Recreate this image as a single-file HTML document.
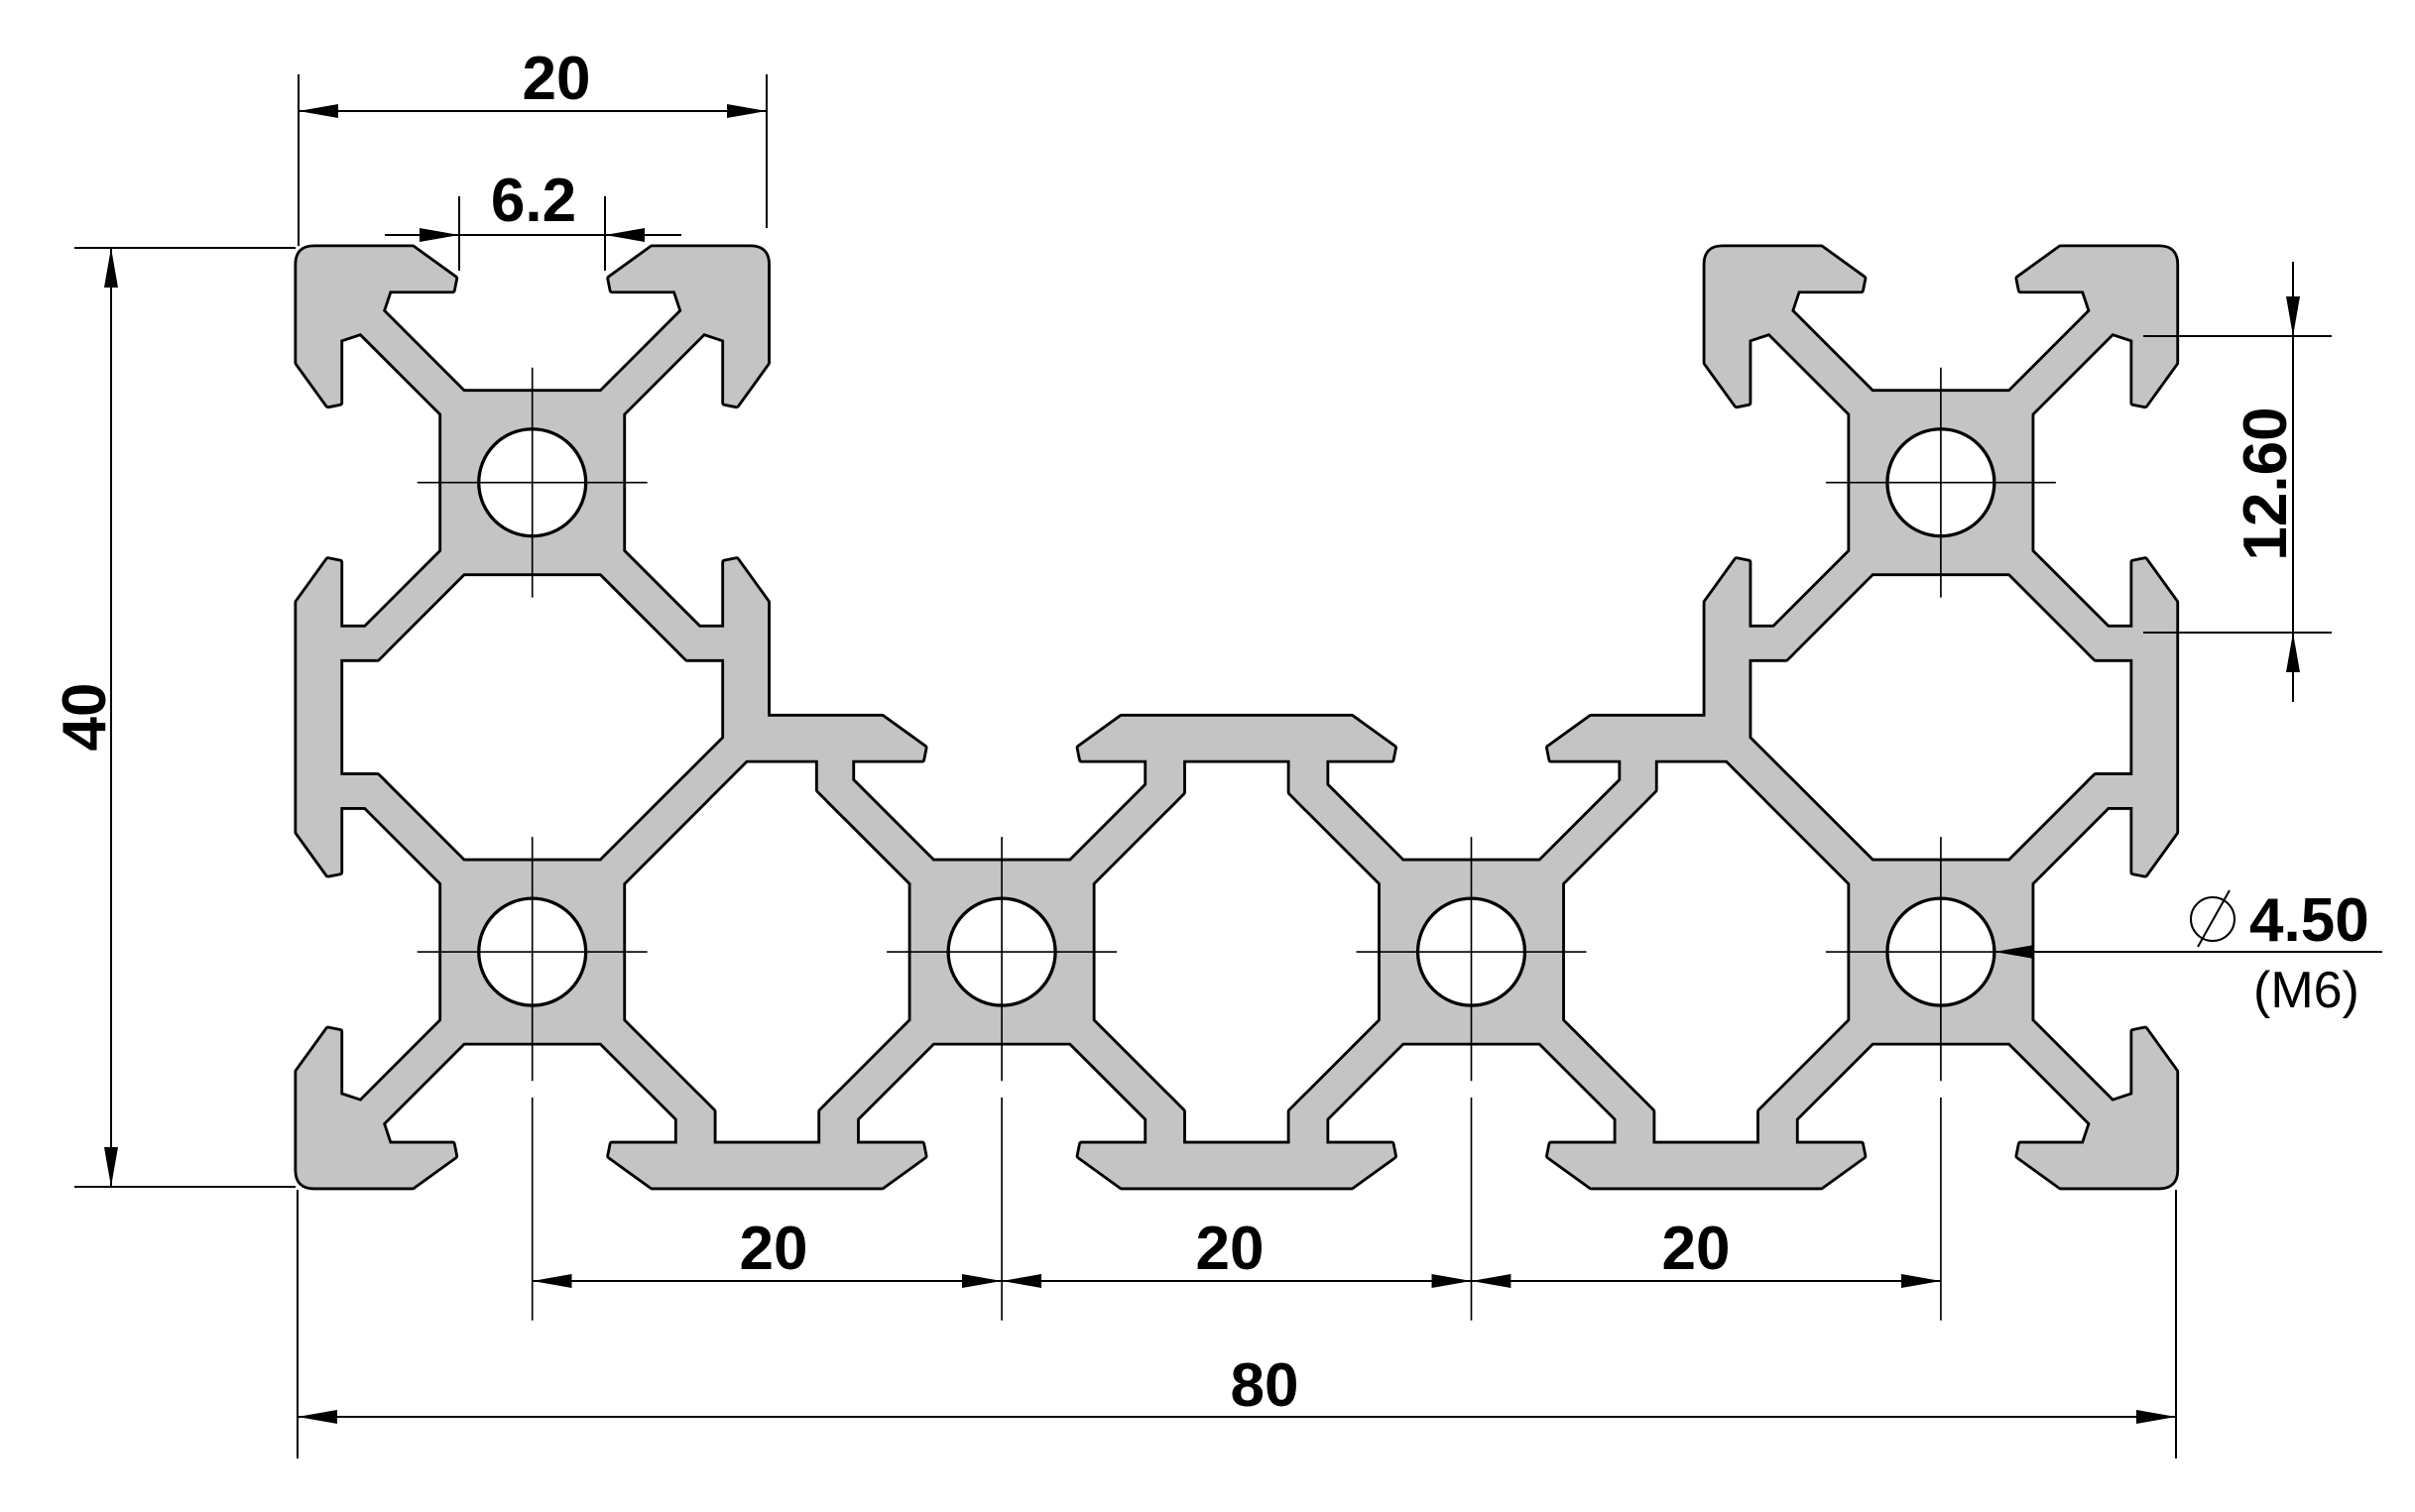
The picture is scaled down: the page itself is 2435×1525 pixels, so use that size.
<!DOCTYPE html>
<html><head><meta charset="utf-8">
<style>html,body{margin:0;padding:0;background:#fff}svg{display:block}
text{font-family:"Liberation Sans",sans-serif;font-weight:bold;fill:#000}</style>
</head><body>
<svg width="2435" height="1525" viewBox="0 0 2435 1525" xmlns="http://www.w3.org/2000/svg" xmlns:xlink="http://www.w3.org/1999/xlink">
<defs>
<g id="hook"><path d="M0,4.9 L0,0.7 Q0,0 0.7,0 L4.9,0 L6.7,1.3 L6.6,1.8 L3.9,1.8 L3.6,2.7 L2.7,3.6 L1.8,3.9 L1.8,6.6 L1.3,6.7 Z"/></g>
<g id="cell">
<rect x="6.16" y="6.16" width="7.68" height="7.68"/>
<polygon points="3.5,2.6 7.3,6.4 6.4,7.3 2.6,3.5"/>
<polygon points="16.5,2.6 12.7,6.4 13.6,7.3 17.4,3.5"/>
<polygon points="3.5,17.4 7.3,13.6 6.4,12.7 2.6,16.5"/>
<polygon points="16.5,17.4 12.7,13.6 13.6,12.7 17.4,16.5"/>
</g>
<g id="jl">
<polygon points="0,15.1 1.3,13.3 1.8,13.4 1.8,26.6 1.3,26.7 0,24.9"/>
<polygon points="1.7,16.2 2.9,16.2 3.7,17.2 3.4,17.5 1.7,17.5"/>
<polygon points="1.7,23.8 2.9,23.8 3.7,22.8 3.4,22.5 1.7,22.5"/>
</g>
<g id="j1">
<polygon points="18.2,13.4 18.7,13.3 20,15.1 20,20 24.9,20 26.7,21.3 26.6,21.8 18.2,21.8"/>
<polygon points="18.3,16.2 17.1,16.2 16.3,17.2 16.6,17.5 18.3,17.5"/>
<polygon points="22.2,21.7 23.6,21.7 23.6,22.7 23.3,24.2 22.2,23.1"/>
<polygon points="12.8,26.3 18.3,20.8 19.1,20.8 19.1,21.8 13.7,27.2"/>
</g>
<g id="j3">
<polygon points="15.1,40 24.9,40 26.7,38.7 26.6,38.2 13.4,38.2 13.3,38.7"/>
<polygon points="16.2,38.3 16.2,37.1 17.0,36.1 17.7,36.8 17.7,38.3"/>
<polygon points="23.8,38.3 23.8,37.1 23.0,36.1 22.3,36.8 22.3,38.3"/>
</g>
<g id="profile">
<use xlink:href="#cell"/>
<use xlink:href="#cell" transform="translate(60,0)"/>
<use xlink:href="#cell" transform="translate(0,20)"/>
<use xlink:href="#cell" transform="translate(20,20)"/>
<use xlink:href="#cell" transform="translate(40,20)"/>
<use xlink:href="#cell" transform="translate(60,20)"/>
<use xlink:href="#hook"/>
<use xlink:href="#hook" transform="translate(20,0) scale(-1,1)"/>
<use xlink:href="#hook" transform="translate(60,0)"/>
<use xlink:href="#hook" transform="translate(80,0) scale(-1,1)"/>
<use xlink:href="#hook" transform="translate(0,40) scale(1,-1)"/>
<use xlink:href="#hook" transform="translate(80,40) scale(-1,-1)"/>
<use xlink:href="#jl"/>
<use xlink:href="#jl" transform="translate(80,0) scale(-1,1)"/>
<use xlink:href="#j1"/>
<use xlink:href="#j1" transform="translate(80,0) scale(-1,1)"/>
<use xlink:href="#j3"/>
<use xlink:href="#j3" transform="translate(20,0)"/>
<use xlink:href="#j3" transform="translate(40,0)"/>
<use xlink:href="#j3" transform="translate(20,60) scale(1,-1)"/>
</g>
<marker id="a" viewBox="0 0 40 14" refX="40" refY="7" markerWidth="40" markerHeight="14" markerUnits="userSpaceOnUse" orient="auto-start-reverse"><path d="M0,0 L40,7 L0,14 Z" fill="#000"/></marker>
</defs>

<g transform="translate(300,250) scale(23.67)">
<use xlink:href="#profile" fill="#000" stroke="#000" stroke-width="0.3" stroke-linejoin="round"/>
<use xlink:href="#profile" fill="#c4c4c4" stroke="#c4c4c4" stroke-width="0.06" stroke-linejoin="round"/>
<g fill="#fff" stroke="#000" stroke-width="0.14">
<circle cx="10" cy="10" r="2.28"/><circle cx="70" cy="10" r="2.28"/>
<circle cx="10" cy="30" r="2.28"/><circle cx="30" cy="30" r="2.28"/>
<circle cx="50" cy="30" r="2.28"/><circle cx="70" cy="30" r="2.28"/>
</g>
<g stroke="#000" stroke-width="0.07">
<path d="M5.1,10H14.9M10,5.1V14.9M65.1,10H74.9M70,5.1V14.9"/>
<path d="M5.1,30H14.9M25.1,30H34.9M45.1,30H54.9M65.1,30H74.9"/>
<path d="M10,25.1V35.5M10,36.2V45.7M30,25.1V35.5M30,36.2V45.7M50,25.1V35.5M50,36.2V45.7M70,25.1V35.5M70,36.2V45.7"/>
</g>
</g>

<g stroke="#000" stroke-width="2" fill="none">
<path d="M301,75V248M773,75V230"/>
<path d="M301,112H773" marker-start="url(#a)" marker-end="url(#a)"/>
<path d="M463,198V273M610,198V273"/>
<path d="M388,237H463" marker-end="url(#a)"/>
<path d="M687,237H610" marker-end="url(#a)"/>
<path d="M463,237H610"/>
<path d="M75,250H298M75,1197H298"/>
<path d="M112,250V1197" marker-start="url(#a)" marker-end="url(#a)"/>
<path d="M536.7,1292H1010" marker-start="url(#a)" marker-end="url(#a)"/>
<path d="M1010,1292H1483.4" marker-start="url(#a)" marker-end="url(#a)"/>
<path d="M1483.4,1292H1956.9" marker-start="url(#a)" marker-end="url(#a)"/>
<path d="M300,1200V1471M2194,1200V1471"/>
<path d="M300,1429H2194" marker-start="url(#a)" marker-end="url(#a)"/>
<path d="M2161,339H2351M2161,638H2351"/>
<path d="M2312,264V339" marker-end="url(#a)"/>
<path d="M2312,708V638" marker-end="url(#a)"/>
<path d="M2312,339V638"/>
<path d="M2402,960H2011" marker-end="url(#a)"/>
<circle cx="2231" cy="927" r="22" stroke-width="2"/>
<path d="M2216,955L2248,898"/>
</g>

<text x="561" y="100" font-size="62" text-anchor="middle">20</text>
<text x="538" y="223" font-size="62" text-anchor="middle">6.2</text>
<text transform="translate(106,723) rotate(-90)" font-size="62" text-anchor="middle">40</text>
<text x="780" y="1280" font-size="62" text-anchor="middle">20</text>
<text x="1240" y="1280" font-size="62" text-anchor="middle">20</text>
<text x="1710" y="1280" font-size="62" text-anchor="middle">20</text>
<text x="1275" y="1418" font-size="62" text-anchor="middle">80</text>
<text transform="translate(2305,488) rotate(-90)" font-size="62" text-anchor="middle">12.60</text>
<text x="2268" y="949" font-size="62">4.50</text>
<text x="2272" y="1016" font-size="52" style="font-weight:normal">(M6)</text>
</svg>
</body></html>
